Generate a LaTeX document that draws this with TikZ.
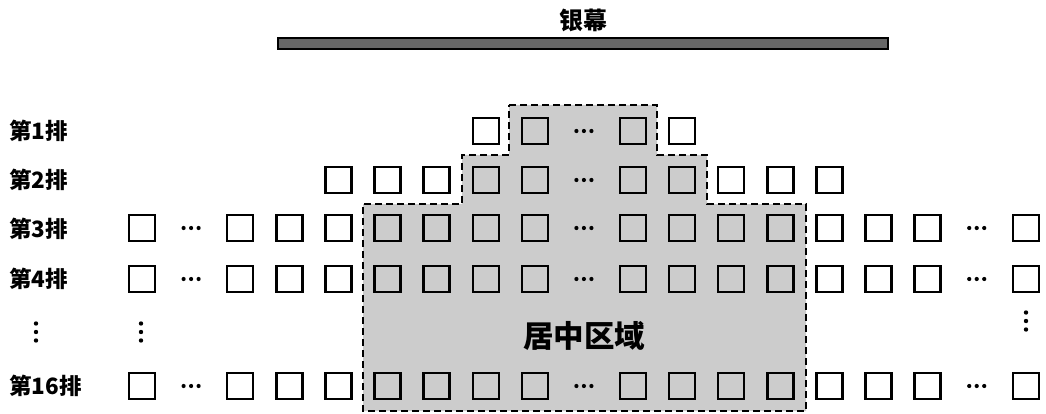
\documentclass[tikz,border=0pt]{standalone}
\usepackage{fontspec}
\newfontfamily\cjk{Noto Sans CJK SC}
\begin{document}
\begin{tikzpicture}[x=1pt,y=-1pt,
  seat/.style={draw, line width=2.4pt, minimum size=26pt, inner sep=0pt},
  hdots/.style={minimum width=22pt, minimum height=6pt, inner sep=0pt,
    path picture={\foreach \d in {-7.5,0,7.5} \fill ([xshift=\d pt]path picture bounding box.center) circle (2.1pt);}},
  vdots/.style={minimum width=6pt, minimum height=24pt, inner sep=0pt,
    path picture={\foreach \d in {-8.5,0,8.5} \fill ([yshift=\d pt]path picture bounding box.center) circle (2.2pt);}},
  rowlabel/.style={anchor=west, inner sep=0pt, font=\cjk\bfseries\fontsize{22.5}{22.5}\selectfont},
  zone/.style={fill=black!20, draw=black, line width=2.2pt, dash pattern=on 7pt off 4pt},
  screenbar/.style={fill=black!60, draw=black, line width=1.2pt}]
\useasboundingbox (0,0) rectangle (1046,414);
% centre zone
\path[zone] (509,105) -- (657,105) -- (657,155) -- (707,155) -- (707,204) -- (806,204)
  -- (806,411) -- (363,411) -- (363,204) -- (462,204) -- (462,155) -- (509,155) -- cycle;
\node[font=\cjk\bfseries\fontsize{30.5}{30.5}\selectfont, inner sep=0pt] (zonelabel) at (584,336) {居中区域};
% screen
\path[screenbar] (278,38) rectangle (888,49);
\node[font=\cjk\bfseries\fontsize{24}{24}\selectfont, inner sep=0pt] (screenlabel) at (583,20) {银幕};
% row labels
\node[rowlabel] (l1) at (9,131) {第1排};
\node[rowlabel] (l2) at (9,180) {第2排};
\node[rowlabel] (l3) at (9,229) {第3排};
\node[rowlabel] (l4) at (9,279) {第4排};
\node[rowlabel] (l16) at (9,386) {第16排};
\node[vdots] (lv) at (36,332) {};
% row 1
\foreach \k in {7,8,10,11} \node[seat] (r1c\k) at (142+49.1*\k,131) {};
\node[hdots] (r1d) at (142+49.1*9,131) {};
% row 2
\foreach \k in {4,5,6,7,8,10,11,12,13,14} \node[seat] (r2c\k) at (142+49.1*\k,180) {};
\node[hdots] (r2d) at (142+49.1*9,180) {};
% rows 3, 4, 16
\foreach \r/\y in {3/228,4/279,16/386}{
  \foreach \k in {0,2,3,4,5,6,7,8,10,11,12,13,14,15,16,18} \node[seat] (r\r c\k) at (142+49.1*\k,\y) {};
  \foreach \k in {1,9,17} \node[hdots] (r\r d\k) at (142+49.1*\k,\y) {};
}
\node[vdots] (v0) at (141,332) {};
\node[vdots] (v18) at (1026,321) {};
\end{tikzpicture}
\end{document}
